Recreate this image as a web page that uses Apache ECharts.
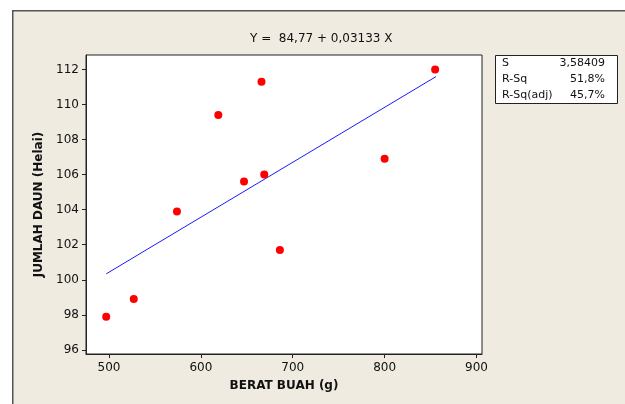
<!DOCTYPE html>
<html lang="id">
<head>
	<meta charset="UTF-8">
	<title>Regresi</title>
	<script src="https://cdn.jsdelivr.net/npm/echarts@6/dist/echarts.min.js"></script>
	<style>
		html, body{
			width: 100%;
			height: 100%;
			padding: 0;
			margin: 0;
			background: #fff;
		}
		#main{
			width: 625px;
			height: 404px;
		}
	</style>
</head>
<body>
	<div id="main"></div>
</body>
<script>
	// data
	let beratBuah = [497, 527, 574, 619, 647, 666, 669, 686, 800, 855];
	let jumlahDaun = [97.9, 98.9, 103.9, 109.4, 105.6, 111.3, 106.0, 101.7, 106.9, 112.0];
	// ujung garis regresi
	let garisX = [497, 856];
	let garisY = [100.34, 111.59];
	let xTicks = [500, 600, 700, 800, 900];
	let yTicks = [96, 98, 100, 102, 104, 106, 108, 110, 112];
	let statLabels = ['S', 'R-Sq', 'R-Sq(adj)'];
	let statValues = ['3,58409', '51,8%', '45,7%'];

	let font = 'DejaVu Sans';
	let myChart = echarts.init(document.getElementById('main'));

	let titik = beratBuah.map((x, i) => [x, jumlahDaun[i]]);
	let garis = garisX.map((x, i) => [x, garisY[i]]);

	// kotak statistik
	let statBox = [{
		type: 'rect',
		left: 495, top: 55,
		shape: {width: 122, height: 48},
		style: {fill: '#fff', stroke: '#222', lineWidth: 1}
	}];
	statLabels.forEach((s, i) => {
		statBox.push({
			type: 'text', x: 502, y: 58 + i * 16,
			style: {text: s, fill: '#111', font: '11px ' + font}
		});
		statBox.push({
			type: 'text', x: 605, y: 58 + i * 16,
			style: {text: statValues[i], fill: '#111', font: '11px ' + font, align: 'right'}
		});
	});

	myChart.setOption({
		animation: false,
		backgroundColor: '#fff',
		textStyle: {fontFamily: font},
		title: {
			text: 'Y =  84,77 + 0,03133 X',
			left: 245,
			top: 28,
			textStyle: {fontSize: 12, fontWeight: 'normal', color: '#111', fontFamily: font}
		},
		graphic: [{
			type: 'rect',
			z: -10,
			left: 12, top: 10,
			shape: {width: 700, height: 500},
			style: {fill: '#efebe1', stroke: '#555', lineWidth: 1.5}
		}].concat(statBox),
		grid: {
			left: 86,
			top: 55,
			right: 143,
			bottom: 50,
			show: true,
			backgroundColor: '#fff',
			borderColor: '#222',
			borderWidth: 1
		},
		xAxis: {
			type: 'value',
			min: 475,
			max: 906,
			name: 'BERAT BUAH (g)',
			nameLocation: 'middle',
			nameGap: 26,
			nameTextStyle: {fontWeight: 'bold', fontSize: 12, color: '#111'},
			axisLine: {show: true, lineStyle: {color: '#222'}},
			axisTick: {show: true, length: 4, customValues: xTicks, lineStyle: {color: '#222'}},
			axisLabel: {customValues: xTicks, fontSize: 12, color: '#111', margin: 8},
			splitLine: {show: false}
		},
		yAxis: {
			type: 'value',
			min: 95.77,
			max: 112.82,
			name: 'JUMLAH DAUN (Helai)',
			nameLocation: 'middle',
			nameGap: 41,
			nameTextStyle: {fontWeight: 'bold', fontSize: 12, color: '#111'},
			axisLine: {show: true, lineStyle: {color: '#222'}},
			axisTick: {show: true, length: 4, customValues: yTicks, lineStyle: {color: '#222'}},
			axisLabel: {customValues: yTicks, fontSize: 12, color: '#111', margin: 7},
			splitLine: {show: false}
		},
		series: [{
			type: 'line',
			data: garis,
			symbol: 'none',
			lineStyle: {color: '#1a1aff', width: 1},
			z: 2
		}, {
			type: 'scatter',
			data: titik,
			symbolSize: 8,
			itemStyle: {color: '#ff0000', opacity: 1},
			z: 3
		}]
	});
</script>
</html>
